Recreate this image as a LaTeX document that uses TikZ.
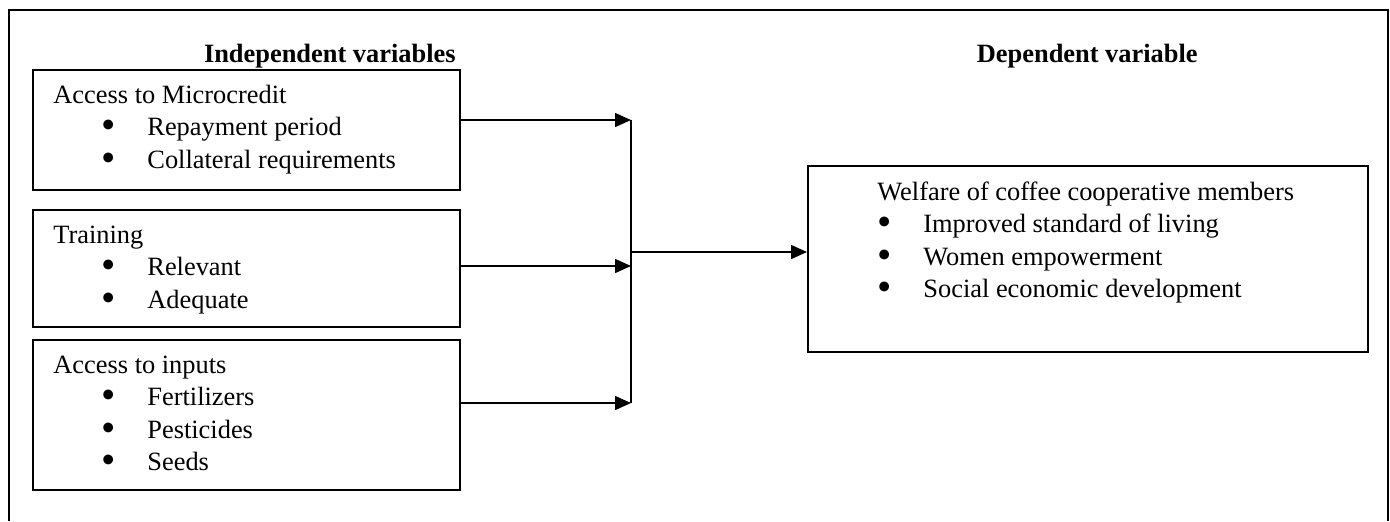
\documentclass[tikz,border=0pt]{standalone}
\usepackage{fontspec}
\setmainfont{Liberation Serif}
\usetikzlibrary{arrows.meta}
\newcommand{\bulmark}{\smash{\raisebox{-1.6pt}{\scalebox{1.55}{\textbullet}}}}
\newcommand{\vitem}[1]{\hspace*{24pt}\makebox[23pt][l]{\bulmark}#1}
\newcommand{\ditem}[1]{\makebox[23pt][l]{\bulmark}#1}

\begin{document}
\begin{tikzpicture}[x=0.5pt,y=-0.5pt,>={Triangle[length=8pt,width=7pt]},
  font=\fontsize{13.2}{16.25}\selectfont,
  varbox/.style={draw,line width=1pt,inner sep=0pt,anchor=north west,minimum width=213.5pt},
  vartext/.style={anchor=base west,inner sep=0pt},
  head/.style={anchor=base east,inner sep=0pt,font=\fontsize{13.2}{16.25}\selectfont\bfseries},
  link/.style={line width=0.75pt}]
\useasboundingbox (0,0) rectangle (1390,521);
\draw[line width=1.3pt] (9,521) -- (9,10) -- (1388,10) -- (1388,521);
\node[head] (indep) at (456,62) {Independent variables};
\node[head] (dep) at (1198,62) {Dependent variable};
\node[varbox,minimum height=60pt] (micro) at (32,69) {};
\node[varbox,minimum height=58.5pt] (train) at (32,209) {};
\node[varbox,minimum height=75pt] (inputs) at (32,339) {};
\node[varbox,minimum width=280pt,minimum height=93pt] (welfare) at (807,165) {};
\node[vartext] (microtxt) at (53,103) {\begin{tabular}[t]{@{}l@{}}Access to Microcredit\\
  \vitem{Repayment period}\\ \vitem{Collateral requirements}\end{tabular}};
\node[vartext] (traintxt) at (53,243) {\begin{tabular}[t]{@{}l@{}}Training\\
  \vitem{Relevant}\\ \vitem{Adequate}\end{tabular}};
\node[vartext] (inputstxt) at (53,373) {\begin{tabular}[t]{@{}l@{}}Access to inputs\\
  \vitem{Fertilizers}\\ \vitem{Pesticides}\\ \vitem{Seeds}\end{tabular}};
\node[vartext] (welfaretxt) at (877,200) {\begin{tabular}[t]{@{}l@{}}Welfare of coffee cooperative members\\
  \ditem{Improved standard of living}\\ \ditem{Women empowerment}\\ \ditem{Social economic development}\end{tabular}};
\coordinate (j1) at (631,120);
\coordinate (j2) at (631,266);
\coordinate (j3) at (631,403);
\coordinate (jm) at (631,252);
\draw[link,->] (micro.east |- j1) -- (j1);
\draw[link,->] (train.east |- j2) -- (j2);
\draw[link,->] (inputs.east |- j3) -- (j3);
\draw[link] (j1) -- (j3);
\draw[link,->] (jm) -- (welfare.west |- jm);
\end{tikzpicture}
\end{document}
